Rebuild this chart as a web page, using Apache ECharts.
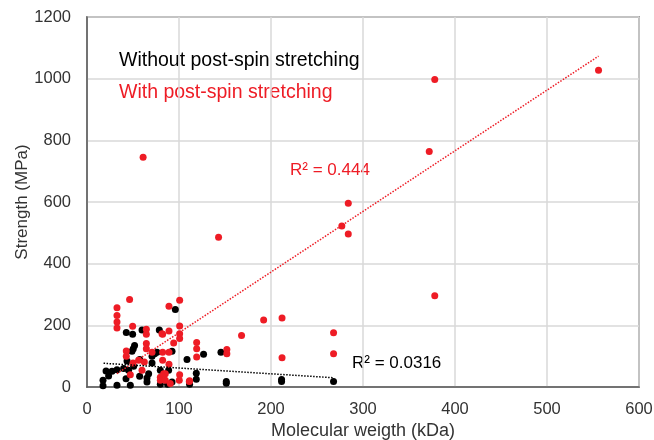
<!DOCTYPE html>
<html>
<head>
<meta charset="utf-8">
<script src="https://cdn.jsdelivr.net/npm/echarts@6/dist/echarts.min.js"></script>
<style>html,body{margin:0;padding:0;background:#fff}#c{width:654px;height:440px}</style>
</head>
<body>
<div id="c"></div>
<script>
// Without post-spin stretching (black)
var withoutX = [96,42.7,49.6,59.8,78.6,50.3,48.9,76.1,70.7,92.4,108.7,126.7,145.6,70.7,57.2,43.5,50.7,45.2,39.8,32.6,27.2,20.7,23.5,17.4,17.4,32.6,42.4,47.1,57.2,65.2,65.2,79.7,88.7,79.7,87.6,92.4,118.8,118.8,151.4,151.4,111.5,211.5,211.5,268,67,73.5,51.7];
var withoutY = [251,177,171,185,185,124,116,113,100,116,89,106,113,78,89,84,67,54,60,56,51,52,36,22,4,6,27,6,35,29,16,54,54,9,9,16,45,25,18,12,9,24,18,18,43,108,135];
// With post-spin stretching (red)
var withX = [556,378,372,284,277,284,143,61,378,192,212,168,268,152,152,212,268,46.3,32.6,32.6,32.6,32.6,89.1,100.7,100.7,100.7,100.7,49.6,64.5,64.5,64.5,64.5,82.2,89.1,94.2,119.2,119.2,119.2,42.7,42.7,50,56.1,70.7,82.2,89.1,82.2,89.1,62.3,59.8,47.1,79.7,79.7,85.1,85.1,90.5,100.3,111.2,100.7,111.5,81.5,83.3];
var withY = [1027,997,764,596,522,496,486,745,296,217,224,167,176,122,108,95,108,284,257,232,211,191,262,281,198,173,157,197,187,171,141,124,171,182,143,144,124,97,117,100,78,87,113,113,113,87,74,81,54,40,32,22,43,22,11,22,18,40,20,173,43];
// Trendlines
var withTrendX = [32.6, 556];
var withTrendY = [43.5, 1073];
var withoutTrendX = [18, 268];
var withoutTrendY = [77, 30];
var xTicks = [0,100,200,300,400,500,600];
var yTicks = [0,200,400,600,800,1000,1200];

function pairs(xs, ys){ return xs.map(function(x,i){ return [x, ys[i]]; }); }

var RED = '#ee1c25';
var FONT = '"Liberation Sans", Arial, sans-serif';
var chart = echarts.init(document.getElementById('c'), null, {renderer:'canvas'});
chart.setOption({
  animation: false,
  grid: {left: 87, right: 15, top: 17, bottom: 53, show: true, borderColor: '#595959', borderWidth: 1.5, containLabel: false, outerBoundsMode: 'none'},
  xAxis: {
    type: 'value', min: xTicks[0], max: xTicks[xTicks.length-1], interval: 100,
    name: 'Molecular weigth (kDa)', nameLocation: 'middle', nameGap: 35, nameMoveOverlap: false,
    nameTextStyle: {fontSize: 18, color: '#333', fontFamily: FONT},
    axisLine: {show: true, lineStyle: {color: '#595959', width: 1.5}},
    axisTick: {show: false},
    axisLabel: {fontSize: 16.5, color: '#333', fontFamily: FONT, margin: 14, formatter: function(v){ return String(v); }},
    splitLine: {show: true, lineStyle: {color: '#d9d9d9', width: 1.5}}
  },
  yAxis: {
    type: 'value', min: yTicks[0], max: yTicks[yTicks.length-1], interval: 200,
    name: 'Strength (MPa)', nameLocation: 'middle', nameGap: 56, nameMoveOverlap: false,
    nameTextStyle: {fontSize: 17, color: '#333', fontFamily: FONT},
    axisLine: {show: true, lineStyle: {color: '#595959', width: 1.5}},
    axisTick: {show: false},
    axisLabel: {fontSize: 16.5, color: '#333', fontFamily: FONT, margin: 16, formatter: function(v){ return String(v); }},
    splitLine: {show: true, lineStyle: {color: '#d9d9d9', width: 1.5}}
  },
  series: [
    {type: 'scatter', data: pairs(withoutX, withoutY), symbolSize: 7, itemStyle: {color: '#000', opacity: 1}, z: 3},
    {type: 'scatter', data: pairs(withX, withY), symbolSize: 7, itemStyle: {color: RED, opacity: 1}, z: 4},
    {type: 'line', data: pairs(withTrendX, withTrendY), symbol: 'none', lineStyle: {color: RED, type: 'dotted', width: 1.5}, z: 5},
    {type: 'line', data: pairs(withoutTrendX, withoutTrendY), symbol: 'none', lineStyle: {color: '#000', type: 'dotted', width: 1.5}, z: 5}
  ],
  graphic: [
    {type: 'text', left: 119, top: 51, style: {text: 'Without post-spin stretching', fill: '#000', font: '19.5px ' + FONT}},
    {type: 'text', left: 119, top: 83, style: {text: 'With post-spin stretching', fill: RED, font: '19.5px ' + FONT}},
    {type: 'text', left: 290, top: 162, style: {text: 'R² = 0.444', fill: RED, font: '17px ' + FONT}},
    {type: 'text', left: 352, top: 355, style: {text: 'R² = 0.0316', fill: '#000', font: '17px ' + FONT}}
  ]
});
</script>
</body>
</html>
